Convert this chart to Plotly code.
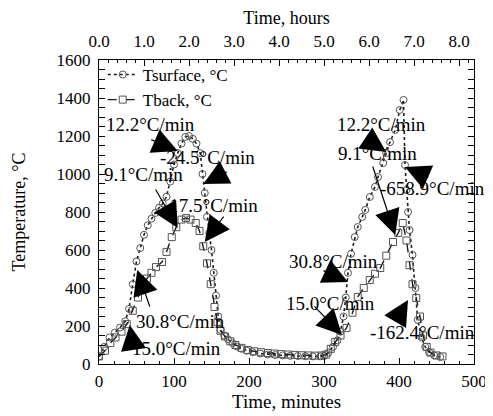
import plotly.graph_objects as go

# ---- data ----
t_surface = [0, 7, 14, 21, 28, 35, 40, 45, 50, 55, 60, 65, 70, 75, 80, 85, 90, 95, 100, 105,
             110, 115, 120, 125, 130, 135, 138, 141, 144, 147, 150, 153, 156, 159, 162, 167,
             172, 178, 184, 190, 197, 205, 215, 225, 235, 245, 255, 265, 275, 285, 295, 300,
             306, 312, 318, 322, 326, 329, 332, 336, 341, 345, 351, 355, 361, 368, 372, 379,
             383, 388, 395, 401, 406, 408, 410, 412, 414, 418, 422, 425, 430, 435, 440, 447, 455]
T_surface = [40, 90, 140, 165, 192, 225, 290, 420, 540, 610, 680, 730, 765, 795, 822, 845, 880,
             960, 1050, 1110, 1160, 1195, 1200, 1185, 1160, 1110, 1000, 900, 775, 690, 600, 480,
             360, 250, 180, 150, 130, 110, 92, 80, 70, 62, 55, 50, 47, 45, 43, 42, 41, 40, 40,
             42, 60, 90, 125, 170, 250, 350, 480, 580, 668, 721, 774, 811, 879, 932, 984, 1058,
             1110, 1168, 1232, 1337, 1390, 1047, 916, 800, 705, 574, 400, 232, 140, 90, 63, 45, 37]

t_back = [0, 8, 15, 22, 30, 37, 45, 52, 58, 64, 70, 76, 84, 90, 97, 103, 110, 116, 122, 129,
          134, 139, 144, 149, 154, 158, 162, 168, 175, 182, 190, 198, 207, 216, 225, 234, 243,
          252, 261, 270, 279, 288, 297, 303, 309, 315, 322, 330, 338, 345, 353, 361, 368, 375,
          383, 392, 399, 405, 410, 414, 418, 423, 428, 432, 437, 442, 450, 458]
T_back = [40, 70, 110, 140, 170, 210, 280, 350, 410, 450, 480, 510, 537, 590, 668, 720, 760,
          768, 760, 742, 700, 620, 530, 420, 300, 220, 175, 145, 120, 100, 85, 74, 67, 62, 58,
          55, 52, 50, 48, 46, 45, 44, 45, 50, 80, 116, 150, 190, 270, 353, 400, 442, 475, 505,
          570, 642, 690, 742, 650, 520, 420, 347, 250, 150, 90, 60, 45, 40]

# annotations: text, text position (min, degC), arrow tip (min, degC), tail offset (px)
ann_text = ["12.2°C/min", "9.1°C/min", "-24.5°C/min", "-17.5°C/min", "30.8°C/min", "15.0°C/min",
            "12.2°C/min", "9.1°C/min", "-658.9°C/min", "30.8°C/min", "15.0°C/min", "-162.4°C/min"]
ann_text_x = [68, 59, 144, 148, 108, 103, 376, 371, 445, 313, 308, 431]
ann_text_y = [1258, 995, 1089, 832, 226, 84, 1263, 1110, 926, 537, 321, 168]
ann_tip_x = [105, 105, 139, 141, 51, 41, 383, 395, 408, 332, 324, 412]
ann_tip_y = [1121, 716, 947, 642, 495, 205, 1116, 679, 1037, 432, 153, 337]
ann_ax = [-28, -23, 25, 20, 13, 3, -21, -23, 25, -26, -29, -13]
ann_ay = [-12, -40, -13, -27, 38, 20, -14, -70, 11, -12, -30, 22]

hour_ticks = [0, 1, 2, 3, 4, 5, 6, 7, 8]
hour_labels = ["0.0", "1.0", "2.0", "3.0", "4.0", "5.0", "6.0", "7.0", "8.0"]

FONT = "Liberation Serif, Times New Roman, serif"
INK = "#1a1a1a"

fig = go.Figure()
fig.add_trace(go.Scatter(
    x=t_surface, y=T_surface, mode="lines+markers", name="Tsurface, °C",
    line=dict(color=INK, width=1.6, dash="dot"),
    marker=dict(symbol="circle-open", size=7, color="#555555", line=dict(width=1)),
))
fig.add_trace(go.Scatter(
    x=t_back, y=T_back, mode="lines+markers", name="Tback, °C",
    line=dict(color=INK, width=1.4, dash="dash"),
    marker=dict(symbol="square-open", size=7, color="#555555", line=dict(width=1)),
))
# invisible trace to activate the top axis
fig.add_trace(go.Scatter(x=[0, 8], y=[None, None], xaxis="x2", showlegend=False,
                         hoverinfo="skip", mode="lines"))

annotations = []
for txt, tx, ty, px, py, ax, ay in zip(ann_text, ann_text_x, ann_text_y,
                                        ann_tip_x, ann_tip_y, ann_ax, ann_ay):
    annotations.append(dict(x=tx, y=ty, xref="x", yref="y", text=txt, showarrow=False,
                            font=dict(family=FONT, size=19, color="black")))
    annotations.append(dict(x=px, y=py, xref="x", yref="y", text="", showarrow=True,
                            ax=ax, ay=ay, arrowhead=2, arrowsize=4.2, arrowwidth=1.2,
                            arrowcolor="black"))

fig.update_layout(
    width=485, height=408,
    margin=dict(l=91, r=19, t=52, b=52, autoexpand=False),
    paper_bgcolor="white", plot_bgcolor="white",
    font=dict(family=FONT, size=16, color="black"),
    showlegend=True,
    legend=dict(x=0.01, y=1.01, xanchor="left", yanchor="top", bgcolor="rgba(0,0,0,0)",
                font=dict(family=FONT, size=17), tracegroupgap=0, itemwidth=30,
                valign="middle", traceorder="normal"),
    xaxis=dict(range=[0, 500], dtick=100, ticks="inside", ticklen=6, tickcolor="black",
               showline=True, linecolor="black", linewidth=1, mirror=True, showgrid=False,
               zeroline=False, automargin=False, ticklabelstandoff=2,
               title=dict(text="Time, minutes", standoff=0, font=dict(size=19)),
               tickfont=dict(size=17),
               minor=dict(ticks="inside", dtick=20, ticklen=3, tickcolor="black")),
    xaxis2=dict(range=[0, 500 / 60], overlaying="x", side="top", tickvals=hour_ticks,
                ticktext=hour_labels, ticks="inside", ticklen=6, tickcolor="black",
                showgrid=False, zeroline=False, showline=False, automargin=False,
                ticklabelstandoff=9,
                title=dict(text="Time, hours", standoff=8, font=dict(size=18)),
                tickfont=dict(size=17),
                minor=dict(ticks="inside", dtick=0.2, ticklen=3, tickcolor="black")),
    yaxis=dict(range=[0, 1600], dtick=200, ticks="inside", ticklen=6, tickcolor="black",
               showline=True, linecolor="black", linewidth=1, mirror="allticks",
               showgrid=False, zeroline=False, automargin=False, ticklabelstandoff=4,
               title=dict(text="Temperature, °C", standoff=26, font=dict(size=18)),
               tickfont=dict(size=17),
               minor=dict(ticks="inside", dtick=50, ticklen=3, tickcolor="black")),
    annotations=annotations,
)

fig.write_html("out.html")
